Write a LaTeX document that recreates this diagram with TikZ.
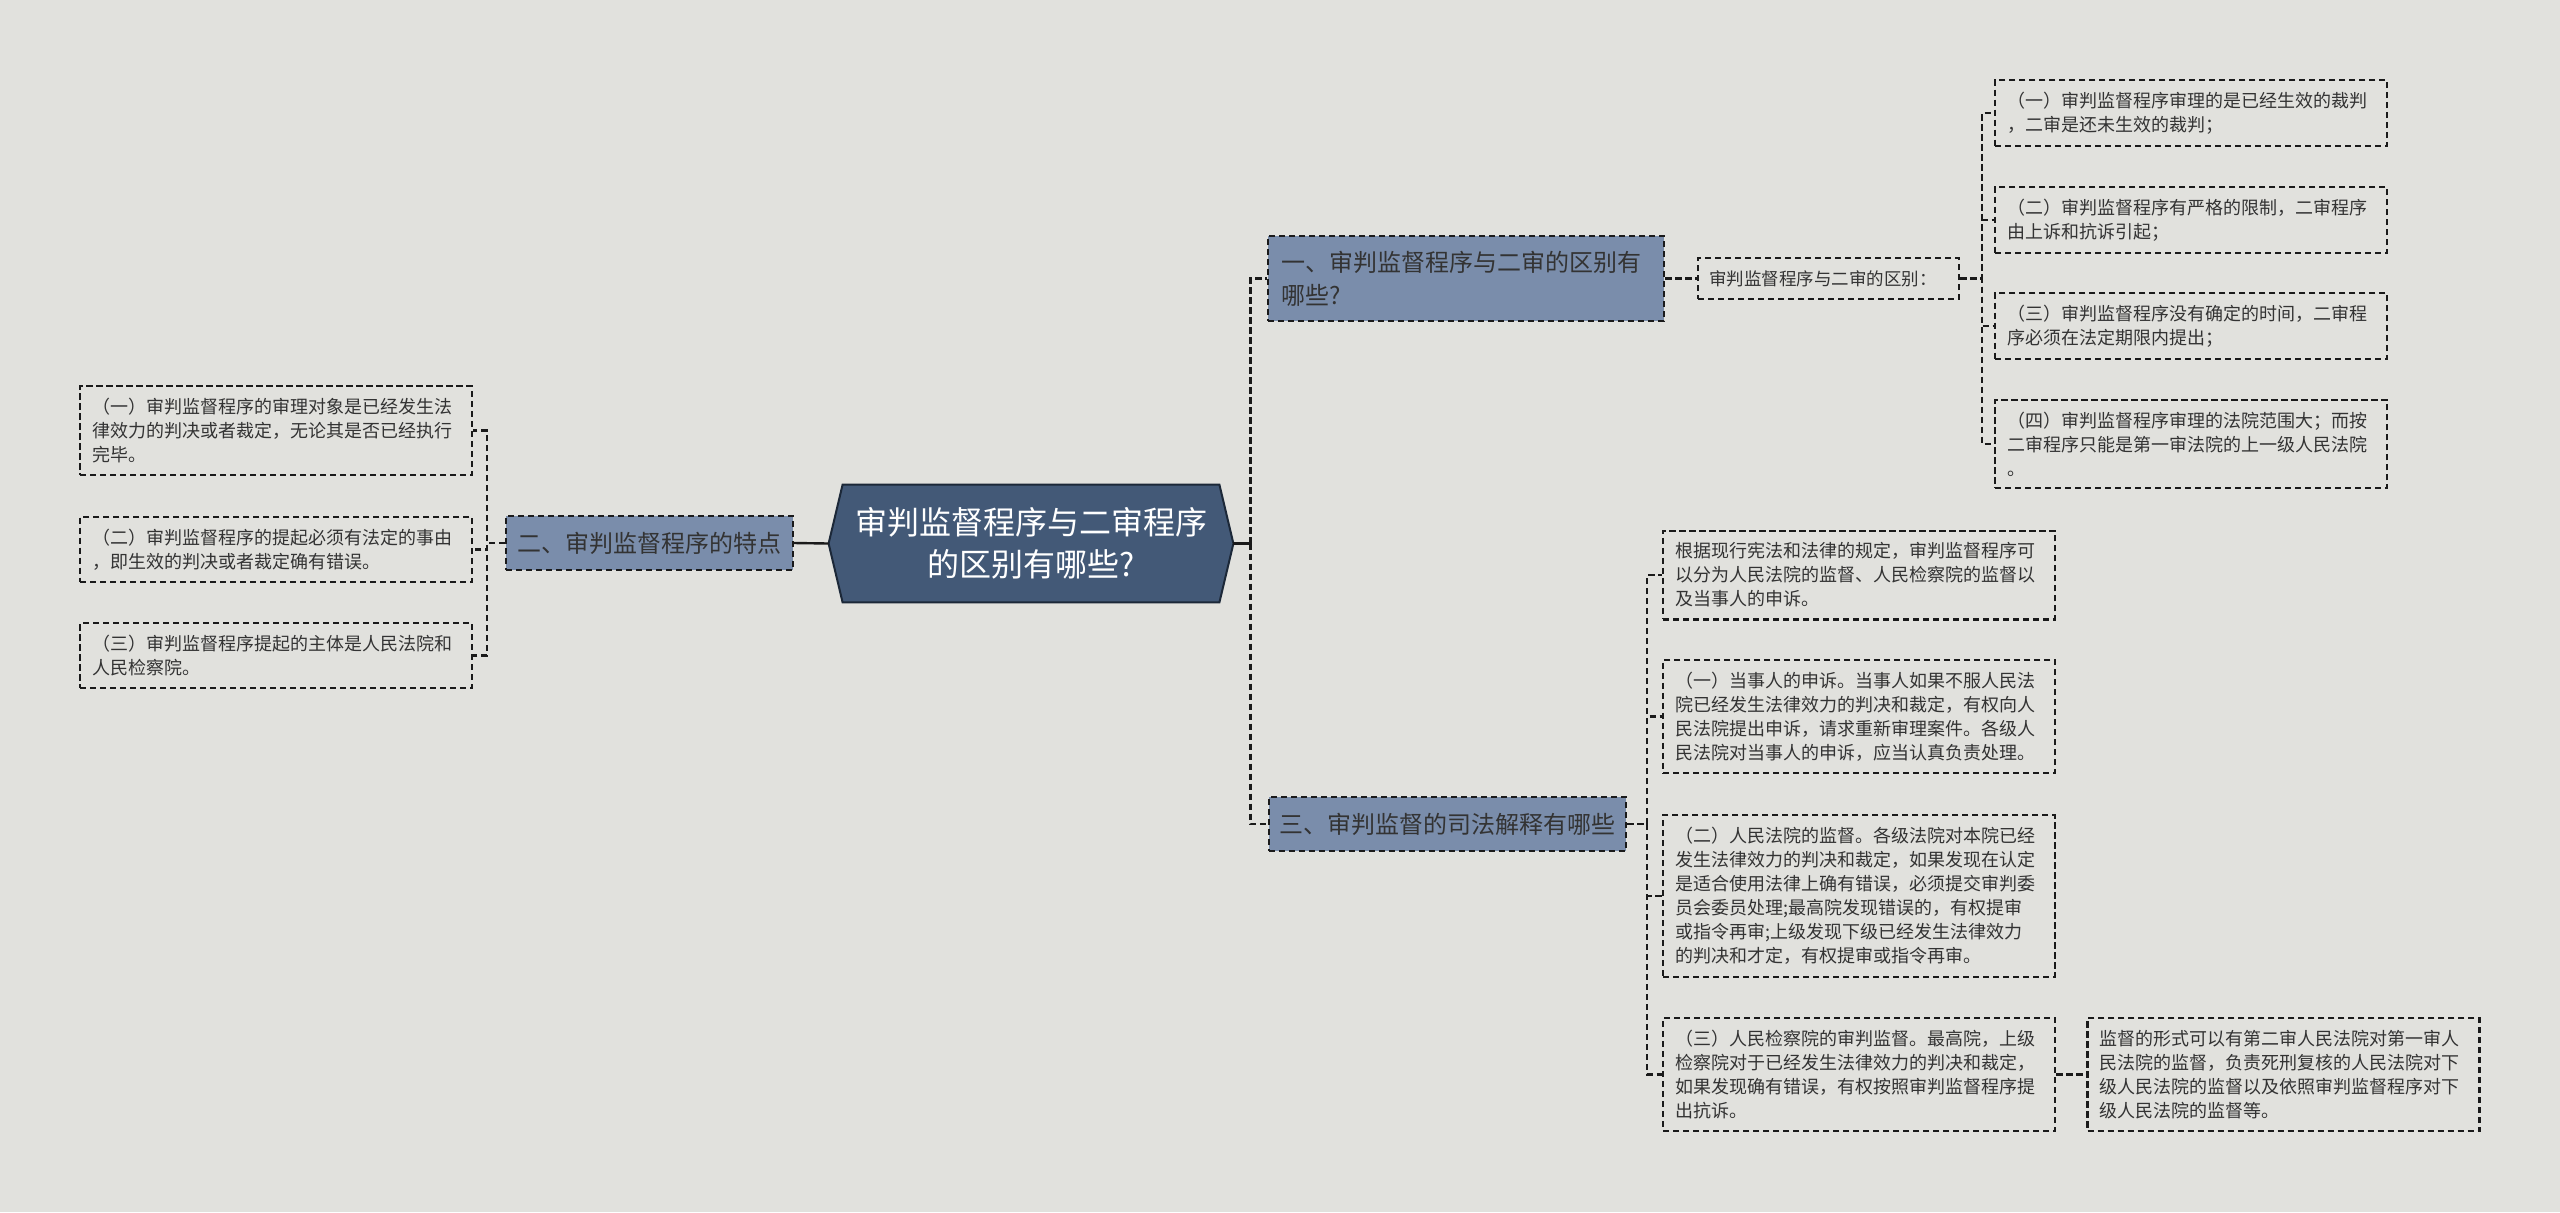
\documentclass[tikz,border=0pt]{standalone}
\usepackage{fontspec}
\setmainfont{Noto Sans CJK SC}
\usetikzlibrary{backgrounds}
\definecolor{pagebg}{HTML}{E1E1DD}
\definecolor{rootfill}{HTML}{435977}
\definecolor{rootline}{HTML}{1C2838}
\definecolor{subfill}{HTML}{7A8DAB}
\definecolor{inktext}{HTML}{333333}
\definecolor{linkline}{HTML}{1A1A1A}
\tikzset{
  link/.style={draw=linkline, line width=1.1pt, dash pattern=on 3.2pt off 1.8pt},
  rootlink/.style={draw=linkline, line width=1.2pt},
  leaf/.style={link, text=inktext, font=\fontsize{9}{12}\selectfont, text width=184pt, align=left, inner xsep=6pt, inner ysep=6pt},
  sub/.style={link, fill=subfill, text=inktext, font=\fontsize{12}{16.5}\selectfont, inner sep=0pt, minimum height=27pt},
  roottext/.style={text=white, font=\fontsize{16}{21}\selectfont, align=center, minimum width=202pt, minimum height=58.5pt, inner sep=0pt},
  rootshape/.style={fill=rootfill, draw=rootline, line width=1pt}
}
\begin{document}
\begin{tikzpicture}[x=0.5pt,y=-0.5pt]
\begin{scope}[on background layer]
\fill[pagebg] (0,0) rectangle (2560,1212);
\end{scope}
\node[roottext] (Root) at (1031,543.5) {审判监督程序与二审程序\\的区别有哪些?};
\begin{scope}[on background layer]
\draw[rootshape] (Root.west) -- ([xshift=7pt]Root.north west) -- ([xshift=-7pt]Root.north east) -- (Root.east) -- ([xshift=-7pt]Root.south east) -- ([xshift=7pt]Root.south west) -- cycle;
\end{scope}
\node[sub, minimum width=143.5pt] (Feat) at (649.5,543) {二、审判监督程序的特点};
\node[sub, text width=185pt, align=left, inner xsep=6.5pt, inner ysep=7.5pt] (Diff) at (1466,278.5) {一、审判监督程序与二审的区别有\\哪些?};
\node[sub, minimum width=178.5pt] (Interp) at (1447.5,824) {三、审判监督的司法解释有哪些};
\node[link, text=inktext, font=\fontsize{8.75}{10}\selectfont, text width=119.5pt, align=left, inner xsep=5.5pt, minimum height=20.5pt, inner ysep=0pt] (DiffList) at (1828.5,278.5) {审判监督程序与二审的区别：};
\node[leaf] (F1) at (276,430.5) {（一）审判监督程序的审理对象是已经发生法\\律效力的判决或者裁定，无论其是否已经执行\\完毕。};
\node[leaf] (F2) at (276,549.5) {（二）审判监督程序的提起必须有法定的事由\\，即生效的判决或者裁定确有错误。};
\node[leaf] (F3) at (276,655.5) {（三）审判监督程序提起的主体是人民法院和\\人民检察院。};
\node[leaf] (D1) at (2191,113) {（一）审判监督程序审理的是已经生效的裁判\\，二审是还未生效的裁判；};
\node[leaf] (D2) at (2191,220) {（二）审判监督程序有严格的限制，二审程序\\由上诉和抗诉引起；};
\node[leaf] (D3) at (2191,326) {（三）审判监督程序没有确定的时间，二审程\\序必须在法定期限内提出；};
\node[leaf] (D4) at (2191,444) {（四）审判监督程序审理的法院范围大；而按\\二审程序只能是第一审法院的上一级人民法院\\。};
\node[leaf] (I1) at (1859,575) {根据现行宪法和法律的规定，审判监督程序可\\以分为人民法院的监督、人民检察院的监督以\\及当事人的申诉。};
\node[leaf] (I2) at (1859,716.5) {（一）当事人的申诉。当事人如果不服人民法\\院已经发生法律效力的判决和裁定，有权向人\\民法院提出申诉，请求重新审理案件。各级人\\民法院对当事人的申诉，应当认真负责处理。};
\node[leaf] (I3) at (1859,896) {（二）人民法院的监督。各级法院对本院已经\\发生法律效力的判决和裁定，如果发现在认定\\是适合使用法律上确有错误，必须提交审判委\\员会委员处理;最高院发现错误的，有权提审\\或指令再审;上级发现下级已经发生法律效力\\的判决和才定，有权提审或指令再审。};
\node[leaf] (I4) at (1859,1074.5) {（三）人民检察院的审判监督。最高院，上级\\检察院对于已经发生法律效力的判决和裁定，\\如果发现确有错误，有权按照审判监督程序提\\出抗诉。};
\node[leaf] (IForm) at (2283.5,1074.5) {监督的形式可以有第二审人民法院对第一审人\\民法院的监督，负责死刑复核的人民法院对下\\级人民法院的监督以及依照审判监督程序对下\\级人民法院的监督等。};
\draw[rootlink] (Root.west) -- (Feat.east);
\draw[rootlink] (Root.east) -- ++(17,0) coordinate (RJ);
\draw[link] (RJ) |- (Diff.west);
\draw[link] (RJ) |- (Interp.west);
\draw[link] (Diff.east) -- (DiffList.west);
\draw[link] (DiffList.east) -- ++(22,0) |- (D1.west);
\draw[link] (DiffList.east) -- ++(22,0) |- (D2.west);
\draw[link] (DiffList.east) -- ++(22,0) |- (D3.west);
\draw[link] (DiffList.east) -- ++(22,0) |- (D4.west);
\draw[link] (Feat.west) -- ++(-18,0) |- (F1.east);
\draw[link] (Feat.west) -- ++(-18,0) |- (F2.east);
\draw[link] (Feat.west) -- ++(-18,0) |- (F3.east);
\draw[link] (Interp.east) -- ++(20,0) |- (I1.west);
\draw[link] (Interp.east) -- ++(20,0) |- (I2.west);
\draw[link] (Interp.east) -- ++(20,0) |- (I3.west);
\draw[link] (Interp.east) -- ++(20,0) |- (I4.west);
\draw[link] (I4.east) -- (IForm.west);
\end{tikzpicture}
\end{document}
